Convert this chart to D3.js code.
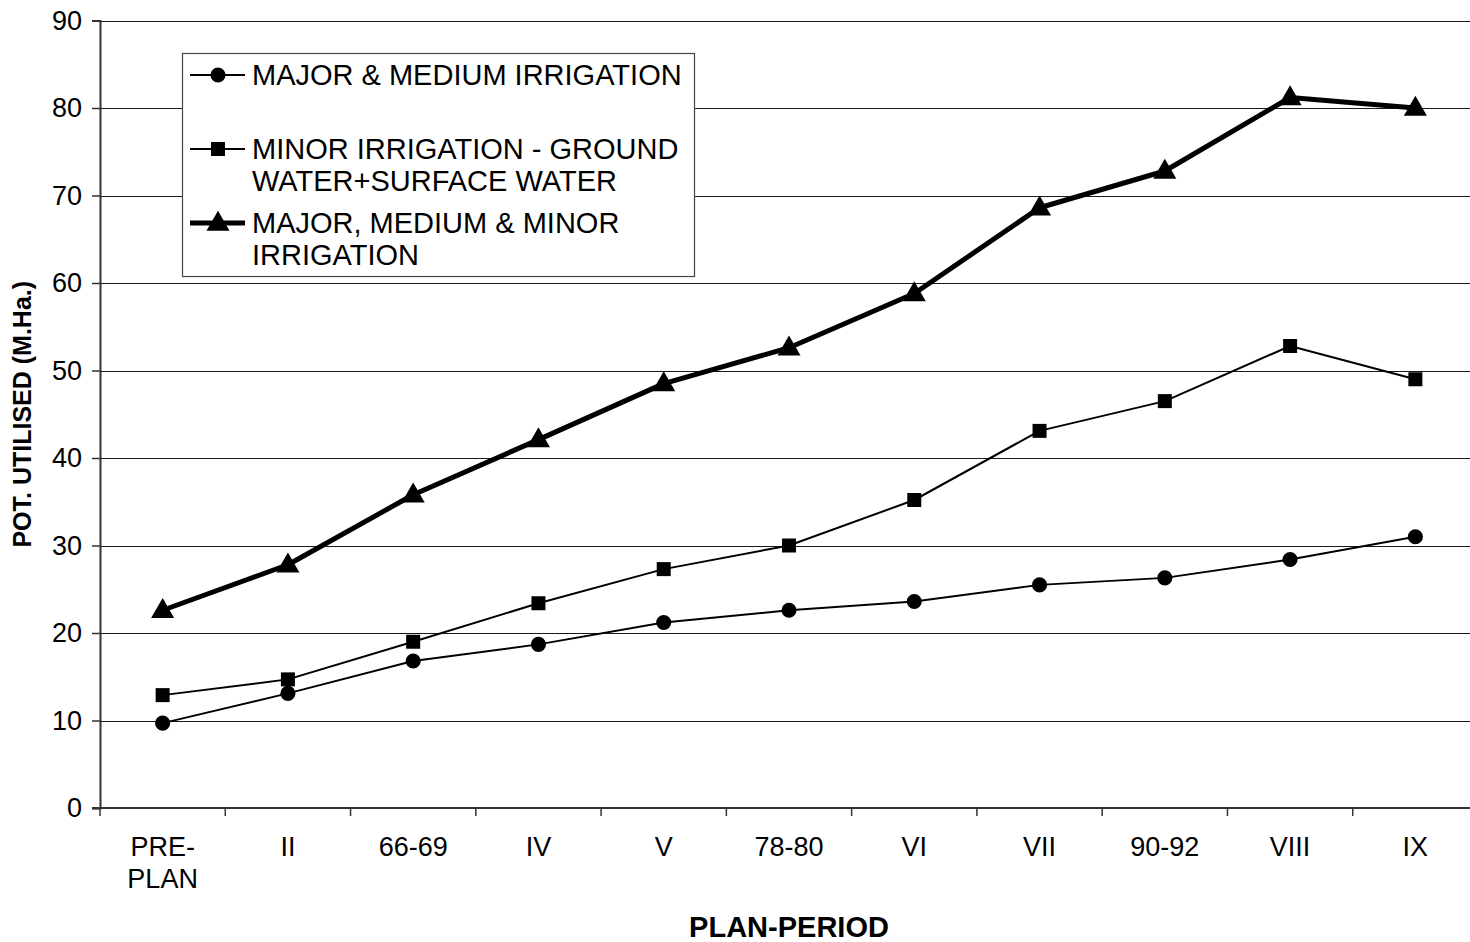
<!DOCTYPE html>
<html>
<head>
<meta charset="utf-8">
<script src="https://cdn.jsdelivr.net/npm/d3@7"></script>
<style>
  html, body { margin: 0; padding: 0; background: #fff; }
  svg { display: block; font-family: Arial, "Liberation Sans", sans-serif; }
</style>
</head>
<body>
<svg id="chart" width="1470" height="942"></svg>
<script>
const categories = [["PRE-", "PLAN"], ["II"], ["66-69"], ["IV"], ["V"], ["78-80"], ["VI"], ["VII"], ["90-92"], ["VIII"], ["IX"]];
const majorMedium = [9.7, 13.1, 16.8, 18.7, 21.2, 22.6, 23.6, 25.5, 26.3, 28.4, 31.0];
const minorIrr    = [12.9, 14.7, 19.0, 23.4, 27.3, 30.0, 35.2, 43.1, 46.5, 52.8, 49.0];
const totalIrr    = [22.6, 27.8, 35.8, 42.1, 48.5, 52.6, 58.8, 68.6, 72.8, 81.2, 80.0];
const yTicks = [0, 10, 20, 30, 40, 50, 60, 70, 80, 90];
const seriesNames = [["MAJOR & MEDIUM IRRIGATION"], ["MINOR IRRIGATION - GROUND", "WATER+SURFACE WATER"], ["MAJOR, MEDIUM & MINOR", "IRRIGATION"]];
const xTitle = "PLAN-PERIOD";
const yTitle = "POT. UTILISED (M.Ha.)";

const svg = d3.select("#chart");
const pLeft = 100, pRight = 1478, pTop = 20.5, pBottom = 808;
const keys = categories.map(c => c.join(" "));

const x = d3.scaleBand().domain(keys).range([pLeft, pRight]).paddingInner(0).paddingOuter(0);
const y = d3.scaleLinear().domain([0, 90]).range([pBottom, pTop]);
const cx = i => x(keys[i]) + x.bandwidth() / 2;

// gridlines
svg.append("g").selectAll("line").data(yTicks.filter(t => t > 0)).join("line")
  .attr("x1", pLeft).attr("x2", pRight)
  .attr("y1", d => Math.round(y(d)) + 0.5).attr("y2", d => Math.round(y(d)) + 0.5)
  .attr("stroke", "#1a1a1a").attr("stroke-width", 1);

// y axis
const yAxis = d3.axisLeft(y).tickValues(yTicks).tickSize(8).tickPadding(10);
const gy = svg.append("g").attr("transform", `translate(${pLeft},0)`).call(yAxis);
gy.select(".domain").attr("stroke", "#333").attr("stroke-width", 2);
gy.selectAll(".tick line").attr("stroke", "#333").attr("stroke-width", 1.5);
gy.selectAll(".tick text").attr("font-size", 27).attr("fill", "#000")
  .attr("font-family", "Arial, 'Liberation Sans', sans-serif");

// x axis
const gx = svg.append("g").attr("transform", `translate(0,${pBottom})`);
gx.append("line").attr("x1", pLeft - 8).attr("x2", pRight).attr("y1", 0).attr("y2", 0)
  .attr("stroke", "#333").attr("stroke-width", 2);
const boundaries = keys.map(k => x(k));
gx.selectAll("line.tk").data(boundaries).join("line").attr("class", "tk")
  .attr("x1", d => d).attr("x2", d => d).attr("y1", 0).attr("y2", 8)
  .attr("stroke", "#333").attr("stroke-width", 1.5);
const lbl = gx.selectAll("text.lb").data(categories).join("text").attr("class", "lb")
  .attr("x", (d, i) => cx(i)).attr("y", 48)
  .attr("text-anchor", "middle").attr("font-size", 27).attr("fill", "#000");
lbl.each(function(d) {
  const t = d3.select(this);
  d.forEach((ln, j) => {
    t.append("tspan").attr("x", t.attr("x")).attr("dy", j === 0 ? 0 : 32).text(ln);
  });
});

// axis titles
svg.append("text").attr("x", (pLeft + pRight) / 2).attr("y", 937)
  .attr("text-anchor", "middle").attr("font-size", 29).attr("font-weight", "bold").text(xTitle);
svg.append("text").attr("transform", `translate(31,${(pTop + pBottom) / 2}) rotate(-90)`)
  .attr("text-anchor", "middle").attr("font-size", 25).attr("font-weight", "bold").text(yTitle);

// series
const series = [
  { values: majorMedium, width: 2, symbol: d3.symbolCircle, size: 180 },
  { values: minorIrr, width: 2, symbol: d3.symbolSquare, size: 196 },
  { values: totalIrr, width: 5, symbol: d3.symbolTriangle, size: 230 }
];
const lineGen = d3.line().x((d, i) => cx(i)).y(d => y(d));

series.forEach(s => {
  svg.append("path").datum(s.values).attr("d", lineGen)
    .attr("fill", "none").attr("stroke", "#000").attr("stroke-width", s.width)
    .attr("stroke-linejoin", "round");
  svg.append("g").selectAll("path").data(s.values).join("path")
    .attr("transform", (d, i) => `translate(${cx(i)},${y(d) + (s.symbol === d3.symbolTriangle ? 1 : 0)})`)
    .attr("d", d3.symbol().type(s.symbol).size(s.size)).attr("fill", "#000");
});

// legend
const lg = svg.append("g");
lg.append("rect").attr("x", 182.5).attr("y", 53.5).attr("width", 512).attr("height", 223)
  .attr("fill", "#fff").attr("stroke", "#444").attr("stroke-width", 1.2);
const rowY = [75, 149, 223];
series.forEach((s, k) => {
  lg.append("line").attr("x1", 190).attr("x2", 245).attr("y1", rowY[k]).attr("y2", rowY[k])
    .attr("stroke", "#000").attr("stroke-width", s.width);
  lg.append("path").attr("transform", `translate(218,${rowY[k] + (s.symbol === d3.symbolTriangle ? 1 : 0)})`)
    .attr("d", d3.symbol().type(s.symbol).size(s.size)).attr("fill", "#000");
  const t = lg.append("text").attr("x", 252).attr("y", rowY[k] + 10).attr("font-size", 29).attr("fill", "#000");
  seriesNames[k].forEach((ln, j) => {
    t.append("tspan").attr("x", 252).attr("dy", j === 0 ? 0 : 32).text(ln);
  });
});
</script>
</body>
</html>
